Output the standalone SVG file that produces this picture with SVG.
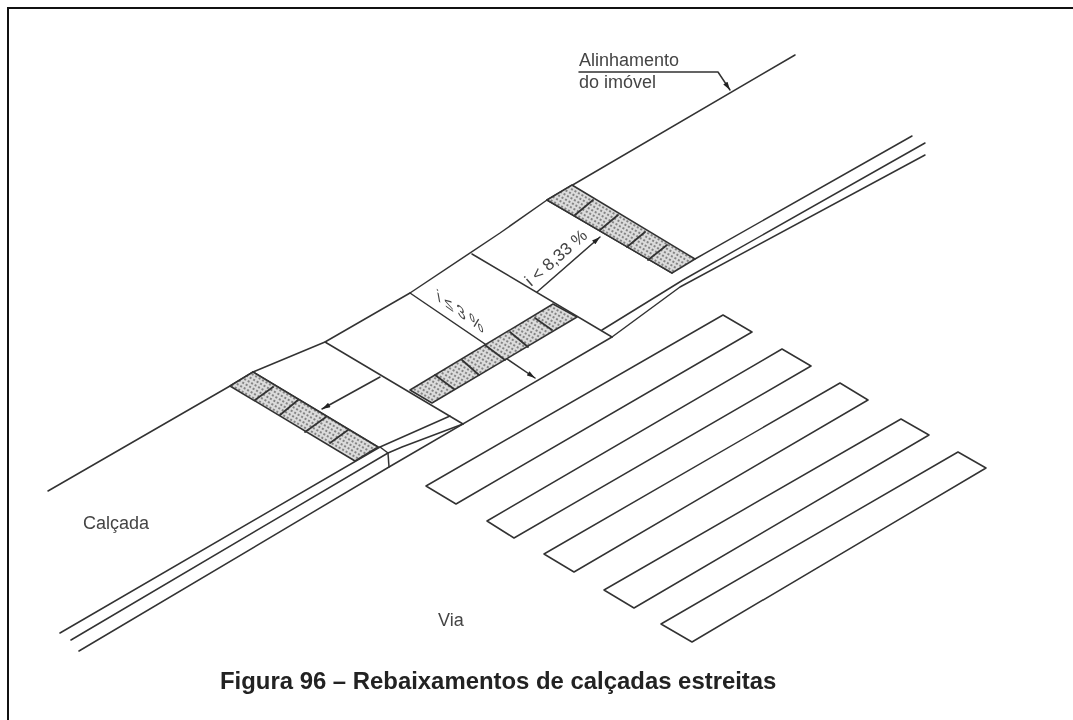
<svg xmlns="http://www.w3.org/2000/svg" width="1073" height="720" viewBox="0 0 1073 720">
<style>
text{font-family:"Liberation Sans",Arial,sans-serif;fill:#444;font-size:18px}
.l{fill:none;stroke:#333;stroke-width:1.5;stroke-linejoin:round;stroke-linecap:round}
.s{fill:url(#dots);stroke:#333;stroke-width:1.5;stroke-linejoin:round}
.c{fill:none;stroke:#333;stroke-width:1.8;stroke-linecap:round}
.w{fill:#fff;stroke:#333;stroke-width:1.5;stroke-linejoin:round}
</style>
<defs>
<pattern id="dots" width="4" height="4" patternUnits="userSpaceOnUse" patternTransform="rotate(30)">
<rect width="4" height="4" fill="#dcdcdc"/>
<circle cx="2" cy="2" r="1.1" fill="#6e6e6e"/>
</pattern>
<marker id="arrow" viewBox="0 0 10 6" refX="10" refY="3" markerWidth="9" markerHeight="5" markerUnits="userSpaceOnUse" orient="auto"><path d="M0 0L10 3L0 6Z" fill="#222"/></marker>
<filter id="soft" x="-2%" y="-2%" width="104%" height="104%"><feGaussianBlur stdDeviation="0.35"/></filter>
</defs>
<rect width="1073" height="720" fill="#fff"/>
<path d="M8 720V8H1073" fill="none" stroke="#111" stroke-width="2"/>
<g filter="url(#soft)">
<g id="connectors">
<path class="l" d="M795 55L547 200L500 233L410 293L325 342L253 372L230 386L48 491"/>
<path class="l" d="M912 136L695 259"/>
<path class="l" d="M925 143L683 280L602 330"/>
<path class="l" d="M925 155L680 287L612 337"/>
<path class="l" d="M60 633L380 447L450 416"/>
<path class="l" d="M71 640L388 453L402 447L463 424"/>
<path class="l" d="M79 651L389 467L612 337"/>
<path class="l" d="M388 453L389 467"/>
<path class="l" d="M380 447L388 453"/>
<path class="l" d="M547 200L672 273"/>
<path class="l" d="M472 254L612 337"/>
<path class="l" d="M325 342L463 424"/>
<path class="l" d="M253 372L378 447"/>
<path class="l" d="M579 72H718L730 90" marker-end="url(#arrow)"/>
<path class="l" d="M410 293L535 378" marker-end="url(#arrow)"/>
<path class="l" d="M380 377L322 409" marker-end="url(#arrow)"/>
<path class="l" d="M537 292L600 237" marker-end="url(#arrow)"/>
</g>
<g id="strip-top">
<path class="s" d="M572 185L547 200L672 273L695 259Z"/>
<path class="c" d="M593 200L575 215M618 215L600 230M645 232L627 247M667 245L648 260"/>
</g>
<g id="strip-middle">
<path class="s" d="M553 304L577 317L432 403L410 390Z"/>
<path class="c" d="M435 375L454 389M462 360L479 375M485 345L505 360M510 332L528 347M535 318L552 330"/>
</g>
<g id="strip-left">
<path class="s" d="M253 372L230 386L355 461L378 447Z"/>
<path class="c" d="M273 387L255 400M298 400L280 415M326 417L305 432M348 430L330 443"/>
</g>
<g id="crosswalk">
<path class="w" d="M426 486L723 315L752 332L456 504Z"/>
<path class="w" d="M487 521L782 349L811 366L514 538Z"/>
<path class="w" d="M544 554L840 383L868 400L574 572Z"/>
<path class="w" d="M604 590L901 419L929 435L634 608Z"/>
<path class="w" d="M661 624L958 452L986 468L692 642Z"/>
</g>
<g id="labels">
<text x="579" y="66">Alinhamento</text>
<text x="579" y="88">do imóvel</text>
<text transform="translate(531 287) rotate(-41)" style="font-size:17px">i &lt; 8,33 %</text>
<text transform="matrix(.84 .6 .18 1 438 301)">i ≤ 3 %</text>
<text x="83" y="529">Calçada</text>
<text x="438" y="626">Via</text>
<text x="220" y="689" style="font-size:23.9px;font-weight:700;fill:#222">Figura 96 – Rebaixamentos de calçadas estreitas</text>
</g>
</g>
</svg>
